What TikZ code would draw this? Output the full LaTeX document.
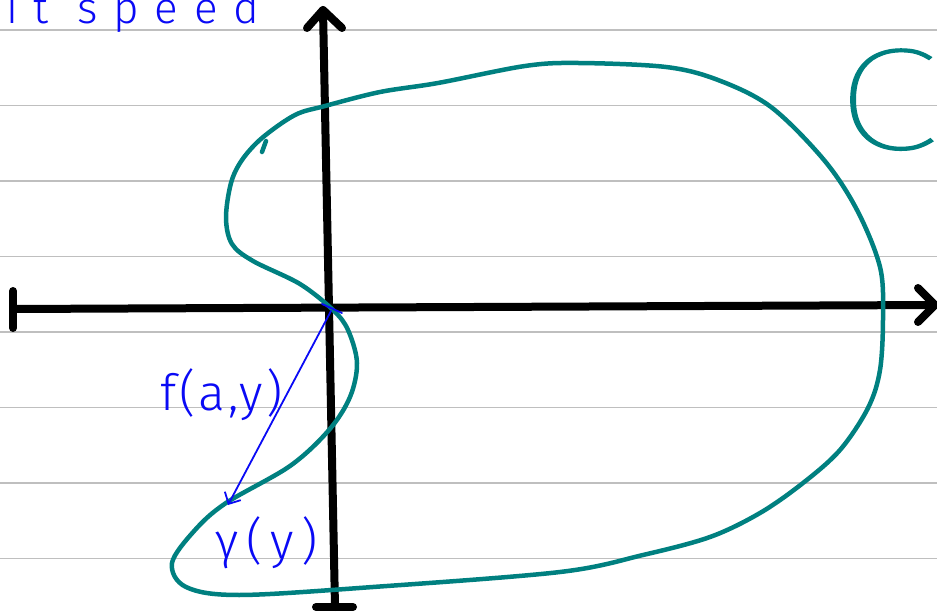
\documentclass[tikz,border=0pt]{standalone}
\usepackage{fontspec}
\setmainfont{Fira Sans}
\IfFontExistsTF{Fira Sans Light}
  {\newfontfamily\handfont{Fira Sans Light}}
  {\newfontfamily\handfont{Fira Sans}}
\IfFontExistsTF{Fira Sans Thin}
  {\newfontfamily\thinfont{Fira Sans Thin}[FakeBold=0.8]}
  {\newfontfamily\thinfont{Fira Sans Light}}
\usetikzlibrary{arrows.meta}
\definecolor{inkteal}{RGB}{0,128,128}
\definecolor{inkblue}{RGB}{10,10,245}

\begin{document}
\begin{tikzpicture}[
  x=1pt,y=-1pt,
  ruled/.style={draw=black!25, line width=1.4pt},
  axis/.style={draw=black, line width=8pt, line cap=round, line join=round},
  curve/.style={draw=inkteal, line width=4.5pt, line cap=round, line join=round},
  pen/.style={draw=inkblue, line width=1.8pt, line cap=round},
  handlabel/.style={inner sep=0pt, anchor=base west, text=inkblue,
    font=\handfont\fontsize{50}{58}\selectfont}
]
\path[use as bounding box] (0,0) rectangle (937,612);

% Ruled paper
\foreach \yy in {30,105.5,181,256.5,332,407.5,483,558.5} {
  \draw[ruled] (0,\yy) -- (937,\yy);
}

% Axes
\draw[axis] (13,309) -- (935,305);
\draw[axis] (13,291) -- (13,328);
\draw[axis] (918,288) -- (935,305) -- (918,322);
\draw[axis] (335,607) -- (323,10);
\draw[axis] (307,28) -- (323,10) -- (342,28);
\draw[axis] (316,607) -- (353,607);

% The closed curve C
\draw[curve] plot[smooth cycle, tension=0.55] coordinates {
  (333,310) (300,284) (253,261) (232,244) (226,218) (231,183)
  (242,160) (262,138) (295,115) (325,106) (380,92) (438,83)
  (525,66) (578,63) (666,67) (718,80) (771,107) (824,160)
  (857,210) (880,267) (883,317) (880,370) (868,408) (840,450)
  (803,483) (760,513) (710,537) (643,555) (560,572) (373,587)
  (239,595) (186,587) (172,563) (195,530) (226,503) (290,466)
  (329,430) (350,397) (357,363) (348,330)
};
\draw[curve] (262,152) -- (266,141);

% f(a,y) from the origin to gamma(y)
\coordinate (origin) at (331,311);
\coordinate (gam) at (228,505);
\draw[pen] (322,304) -- (342,313);
\draw[pen, -{Straight Barb[length=9pt,width=18pt]}] (origin) -- (gam);

\node[handlabel, font=\handfont\fontsize{50}{58}\selectfont\addfontfeatures{LetterSpace=6}]
  (flab) at (160,410) {f(a,y)};
\node[handlabel, font=\handfont\fontsize{50}{58}\selectfont\addfontfeatures{LetterSpace=16}]
  (glab) at (215,558) {γ(y)};

% Notes cut off at the page edge
\node[handlabel, font=\handfont\fontsize{44}{50}\selectfont\addfontfeatures{LetterSpace=36}]
  (speed) at (6,24) {it speed};
\node[inner sep=0pt, anchor=base west, text=inkteal,
  font=\thinfont\fontsize{145}{160}\selectfont] (clab) at (836,149)
  {\scalebox{1.3}[1]{C}};

\end{tikzpicture}
\end{document}
